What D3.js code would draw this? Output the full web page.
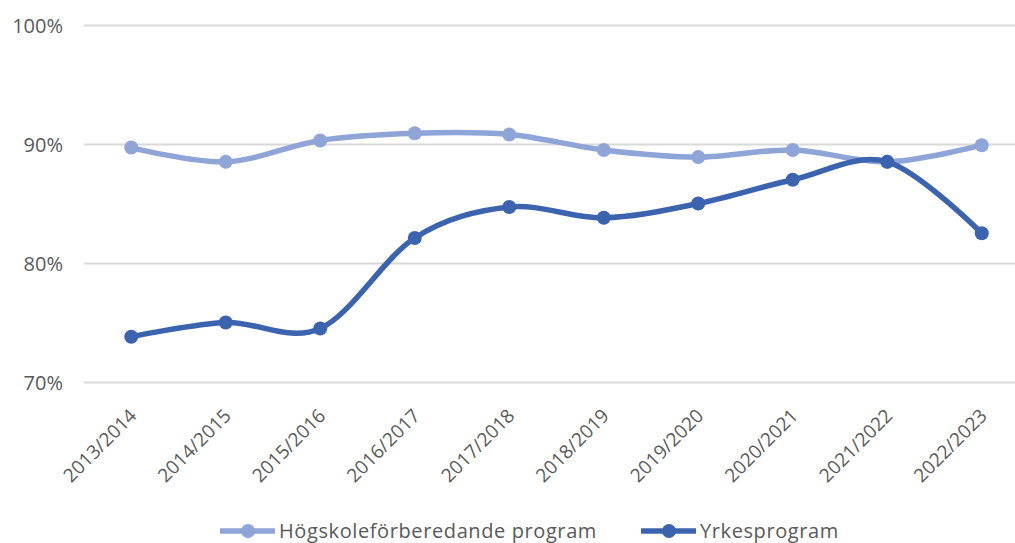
<!DOCTYPE html>
<html>
<head>
<meta charset="utf-8">
<script src="https://cdn.jsdelivr.net/npm/d3@7"></script>
<style>
  body { margin: 0; background: #fff; }
  text { font-family: "Open Sans", Lato, sans-serif; fill: #595959; }
</style>
</head>
<body>
<div id="chart"></div>
<script>
// Chart data
var years = ["2013/2014", "2014/2015", "2015/2016", "2016/2017", "2017/2018",
             "2018/2019", "2019/2020", "2020/2021", "2021/2022", "2022/2023"];
var hogskole = [89.7, 88.5, 90.3, 90.9, 90.8, 89.5, 88.9, 89.5, 88.5, 89.9];
var yrkes = [73.8, 75.0, 74.5, 82.1, 84.7, 83.8, 85.0, 87.0, 88.5, 82.5];
var yTicks = [70, 80, 90, 100];
var seriesNames = ["Högskoleförberedande program", "Yrkesprogram"];
var colors = ["#8FA5D7", "#3C64AE"];

var svgWidth = 1015;
var svgHeight = 543;

var margin = { top: 25, right: -14, bottom: 161, left: 84 };
var width = svgWidth - margin.left - margin.right;
var height = svgHeight - margin.top - margin.bottom;

var svg = d3.select("#chart")
  .append("svg")
  .attr("width", svgWidth)
  .attr("height", svgHeight);

var chart = svg.append("g")
  .attr("transform", `translate(${margin.left}, ${margin.top})`);

var xScale = d3.scalePoint()
  .domain(years)
  .range([0, width])
  .padding(0.5);

var yScale = d3.scaleLinear()
  .domain([70, 100])
  .range([height, 0]);

// gridlines + y labels
var yAxis = d3.axisLeft(yScale)
  .tickValues(yTicks)
  .tickSize(-width)
  .tickFormat(d => d + "%");

chart.append("g")
  .call(yAxis)
  .call(g => g.select(".domain").remove())
  .call(g => g.selectAll("line").attr("stroke", "#D9D9D9").attr("stroke-width", 2))
  .call(g => g.selectAll("text")
    .attr("x", -21)
    .attr("dy", "0.35em")
    .style("font-size", "20px")
    .style("fill", "#595959"));

// x labels
var xAxis = d3.axisBottom(xScale).tickSize(0);

chart.append("g")
  .attr("transform", `translate(0, ${height})`)
  .call(xAxis)
  .call(g => g.select(".domain").remove())
  .call(g => g.selectAll("text")
    .attr("text-anchor", "end")
    .attr("x", 0)
    .attr("y", 0)
    .attr("dy", 0)
    .attr("transform", "translate(6, 35) rotate(-45)")
    .style("font-size", "19px")
    .style("fill", "#595959"));

var line = d3.line()
  .x((d, i) => xScale(years[i]))
  .y(d => yScale(d))
  .curve(d3.curveCatmullRom.alpha(0));

[hogskole, yrkes].forEach(function(values, s) {
  chart.append("path")
    .datum(values)
    .attr("d", line)
    .attr("fill", "none")
    .attr("stroke", colors[s])
    .attr("stroke-width", 5.5)
    .attr("stroke-linecap", "round");

  chart.selectAll(".pt" + s)
    .data(values)
    .enter()
    .append("circle")
    .attr("cx", (d, i) => xScale(years[i]))
    .attr("cy", d => yScale(d))
    .attr("r", 7)
    .attr("fill", colors[s]);
});

// legend (sits at the bottom edge like the original)
var legend = svg.append("g").attr("transform", "translate(0, 531)");
var legendX = [220, 641];
seriesNames.forEach(function(name, s) {
  var g = legend.append("g").attr("transform", `translate(${legendX[s]}, 0)`);
  g.append("line")
    .attr("x1", 0).attr("x2", 55)
    .attr("stroke", colors[s])
    .attr("stroke-width", 5.5);
  g.append("circle")
    .attr("cx", 28)
    .attr("r", 7)
    .attr("fill", colors[s]);
  g.append("text")
    .attr("x", 59)
    .attr("dy", "0.35em")
    .style("font-size", "20px")
    .style("letter-spacing", "0.6px")
    .text(name);
});
</script>
</body>
</html>
